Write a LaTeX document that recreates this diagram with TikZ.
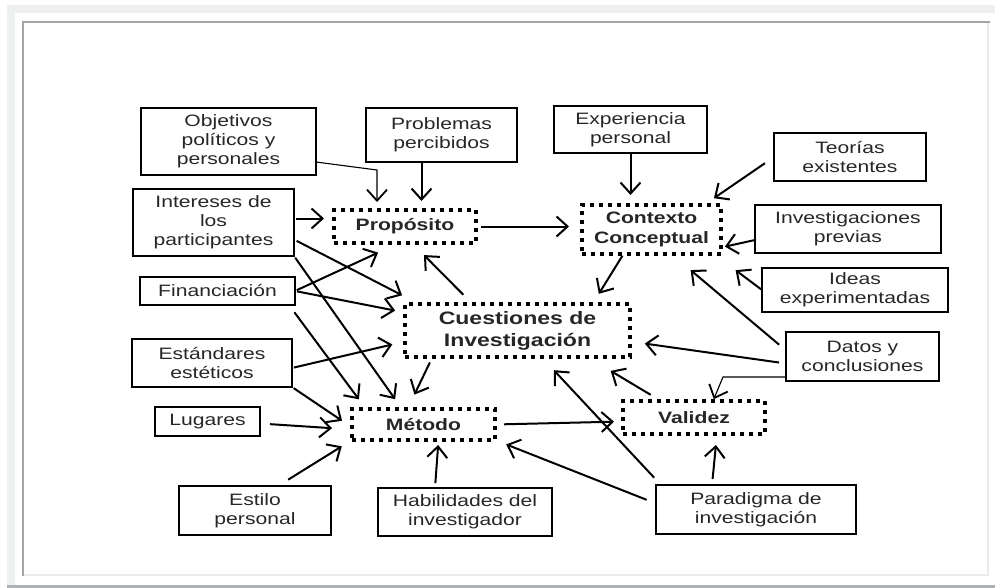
\documentclass[tikz,border=0pt]{standalone}
\usepackage{fontspec}
\newfontfamily\mapfont{Liberation Sans}[FakeStretch=1.28]
\usetikzlibrary{arrows.meta}
\definecolor{bandgray}{HTML}{EEF0EF}
\definecolor{framegray}{HTML}{A3A7A9}
\definecolor{edgegray}{HTML}{E9EAEA}
\definecolor{bargray}{HTML}{ADB1B3}
\tikzset{>={Straight Barb[length=11pt,width=20pt]}}
\tikzset{
  caja/.style={draw,line width=2.3pt,inner sep=0pt,outer sep=0pt,align=center,text=black!85,
    font=\mapfont\fontsize{16.5}{19}\selectfont},
  nucleo/.style={draw,line width=4pt,dash pattern=on 4pt off 5pt,inner sep=0pt,outer sep=0pt,
    align=center,text=black!85,font=\mapfont\bfseries\fontsize{16.5}{20}\selectfont},
  flecha/.style={->,line width=2pt},
  fina/.style={->,line width=1.1pt,>={Straight Barb[length=11pt,width=20pt,line width=1.8pt]}}
}

\begin{document}
\begin{tikzpicture}[x=1pt,y=-1pt]
\useasboundingbox (0,0) rectangle (995,588);
\fill[bandgray] (7,5) rectangle (995,13);
\fill[bandgray] (7,5) rectangle (15,585);
\fill[bargray] (7,585) rectangle (995,588);
\draw[framegray,line width=2pt] (23,576) -- (23,22) -- (990,22);
\draw[edgegray,line width=2pt] (24,575) -- (988,575) -- (988,23);

\node[caja,minimum width=175pt,minimum height=67pt] (obj) at (228.5,141.5) {Objetivos\\políticos y\\personales};
\node[caja,minimum width=151pt,minimum height=54pt] (prob) at (441.5,135) {Problemas\\percibidos};
\node[caja,minimum width=153pt,minimum height=47pt] (exper) at (630.5,129.5) {Experiencia\\personal};
\node[caja,minimum width=152pt,minimum height=48pt] (teor) at (850,157) {Teorías\\existentes};
\node[caja,minimum width=186pt,minimum height=48pt] (invprev) at (848,229) {Investigaciones\\previas};
\node[caja,minimum width=186pt,minimum height=44pt] (ideas) at (855,290) {Ideas\\experimentadas};
\node[caja,minimum width=153pt,minimum height=49pt] (datos) at (862.5,356.5) {Datos y\\conclusiones};
\node[caja,minimum width=161pt,minimum height=67pt] (interes) at (213.5,222.5) {Intereses de\\los\\participantes};
\node[caja,minimum width=155pt,minimum height=28pt] (financ) at (217.5,291) {Financiación};
\node[caja,minimum width=160pt,minimum height=48pt] (estand) at (212,363) {Estándares\\estéticos};
\node[caja,minimum width=105pt,minimum height=29pt] (lugares) at (207.5,421.5) {Lugares};
\node[caja,minimum width=152pt,minimum height=49pt] (estilo) at (255,510.5) {Estilo\\personal};
\node[caja,minimum width=174pt,minimum height=48pt] (habil) at (465,512) {Habilidades del\\investigador};
\node[caja,minimum width=200pt,minimum height=49pt] (parad) at (756,509.5) {Paradigma de\\investigación};

\node[nucleo,minimum width=142pt,minimum height=33pt] (prop) at (405,226.5) {Propósito};
\node[nucleo,minimum width=139pt,minimum height=49pt] (contexto) at (651.5,229.5) {Contexto\\Conceptual};
\node[nucleo,minimum width=225pt,minimum height=53pt,font=\mapfont\bfseries\fontsize{18}{22}\selectfont] (cuest) at (517.5,330.5) {Cuestiones de\\Investigación};
\node[nucleo,minimum width=143pt,minimum height=31pt] (metodo) at (423.5,424.5) {Método};
\node[nucleo,minimum width=142pt,minimum height=33pt] (validez) at (694,417.5) {Validez};

\draw[fina,shorten >=8pt] ([yshift=13pt]obj.south east) -- ([xshift=-28pt,yshift=40pt]prop.north) -- ([xshift=-28pt]prop.north);
\draw[flecha,shorten >=9pt] ([xshift=-20pt]prob.south) -- ([xshift=-20pt]prob.south |- prop.north);
\draw[flecha,shorten <=2pt,shorten >=10pt] ([yshift=4pt]interes.east) -- ([yshift=4pt]interes.east -| prop.west);
\draw[flecha,shorten <=3pt,shorten >=19pt] ([yshift=-17pt]interes.east) -- ([xshift=14pt]cuest.north west);
\draw[flecha,shorten <=2pt,shorten >=12pt] (interes.south east) -- ([xshift=50pt]metodo.north west);
\draw[flecha,shorten <=2pt,shorten >=23pt] (financ.east) -- ([xshift=-6pt]prop.south);
\draw[flecha,shorten <=2pt,shorten >=10pt] (financ.east) -- ([yshift=18pt]cuest.west);
\draw[flecha,shorten <=9pt,shorten >=12pt] ([xshift=-6pt]financ.south east) -- ([xshift=14pt]metodo.north west);
\draw[flecha,shorten <=2pt,shorten >=13pt] ([yshift=-5pt]estand.east) -- ([yshift=-11pt]cuest.west);
\draw[flecha,shorten <=2pt,shorten >=12pt] (estand.south east) -- ([yshift=-3pt]metodo.west);
\draw[flecha,shorten <=10pt,shorten >=20pt] ([yshift=-2pt]lugares.east) -- ([yshift=-5pt]metodo.west);
\draw[flecha,shorten <=12pt,shorten >=12pt] ([xshift=23pt]estilo.north) -- (metodo.south west);
\draw[flecha,shorten <=5pt,shorten >=5pt] ([xshift=-30pt]habil.north) -- ([xshift=15pt]metodo.south);
\draw[flecha,shorten <=6pt,shorten >=16pt] ([xshift=-85pt]cuest.south) -- ([xshift=-16pt]metodo.north);
\draw[flecha,shorten <=13pt,shorten >=17pt] ([xshift=-45pt]cuest.north) -- ([xshift=7pt]prop.south);
\draw[flecha,shorten <=5pt,shorten >=13pt] (prop.east) -- (prop.east -| contexto.west);
\draw[flecha,shorten >=10pt] (exper.south) -- (exper.south |- contexto.north);
\draw[flecha,shorten <=11pt,shorten >=12pt] (teor.west) -- ([xshift=-17pt]contexto.north east);
\draw[flecha,shorten <=1pt,shorten >=4pt] ([yshift=-11pt]invprev.west) -- ([yshift=-18pt]contexto.east);
\draw[flecha,shorten <=1pt,shorten >=27pt] (ideas.west) -- ([xshift=-7pt]contexto.south east);
\draw[flecha,shorten <=9pt,shorten >=25pt] ([yshift=6pt]datos.west) -- ([xshift=20pt]contexto.south);
\draw[flecha,shorten <=2pt,shorten >=12pt] ([xshift=-28pt]contexto.south) -- ([xshift=75pt]cuest.north);
\draw[flecha,shorten <=7pt,shorten >=15pt] ([yshift=-7pt]datos.west) -- ([yshift=-11pt]cuest.east);
\draw[fina,shorten >=2pt] ([yshift=4pt]datos.south west) -- ++(-63,0) -- ([xshift=19pt]validez.north);
\draw[flecha,shorten <=12pt,shorten >=27pt] ([xshift=-33pt]validez.north) -- ([xshift=70pt]cuest.south);
\draw[flecha,shorten <=9pt,shorten >=9pt] (metodo.east) -- ([yshift=-4pt]validez.west);
\draw[flecha,shorten <=6pt,shorten >=11pt] ([xshift=-44pt]parad.north) -- ([xshift=23pt]validez.south);
\draw[flecha,shorten <=10pt,shorten >=18pt] ([xshift=5pt]parad.north west) -- ([xshift=24pt]cuest.south);
\draw[flecha,shorten <=10pt,shorten >=12pt] ([yshift=6pt]parad.west) -- (metodo.south east);
\end{tikzpicture}
\end{document}
